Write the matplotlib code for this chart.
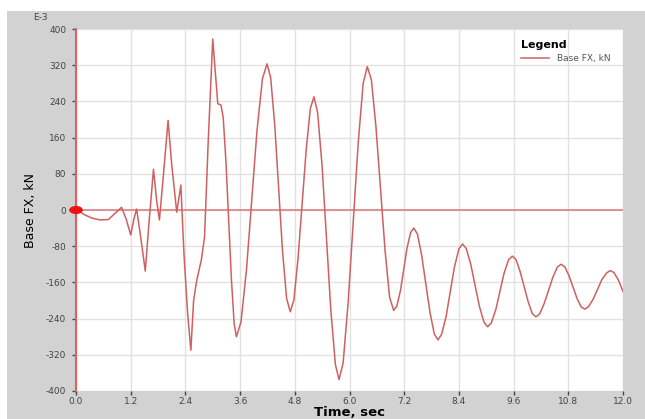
import matplotlib.pyplot as plt
from matplotlib.patches import Rectangle, Ellipse

# Base FX time history (values in E-3 kN)
time_s = [0.00, 0.10, 0.20, 0.35, 0.53, 0.71, 0.85, 1.00, 1.10, 1.20, 1.27, 1.33,
          1.42, 1.52, 1.60, 1.70, 1.77, 1.83, 1.92, 2.02, 2.10, 2.21, 2.30, 2.37,
          2.45, 2.52, 2.58, 2.65, 2.75, 2.82, 2.90, 3.00, 3.06, 3.11, 3.18,
          3.23, 3.29, 3.35, 3.41, 3.47, 3.52,
          3.62, 3.74, 3.855, 3.97, 4.09, 4.19,
          4.27, 4.36, 4.445, 4.53, 4.62, 4.70,
          4.78, 4.87, 4.96, 5.05, 5.14, 5.22,
          5.30, 5.40, 5.495, 5.59, 5.69, 5.77,
          5.86, 5.97, 6.08, 6.19, 6.30, 6.39,
          6.48, 6.58, 6.68, 6.78, 6.88, 6.97,
          7.04, 7.12, 7.19, 7.26, 7.34, 7.41,
          7.49, 7.585, 7.675, 7.765, 7.86, 7.94,
          8.02, 8.12, 8.21, 8.30, 8.40, 8.48,
          8.56, 8.66, 8.755, 8.85, 8.95, 9.03,
          9.11, 9.21, 9.30, 9.39, 9.49, 9.57,
          9.65, 9.74, 9.83, 9.92, 10.01, 10.09,
          10.17, 10.27, 10.365, 10.46, 10.56, 10.64,
          10.72, 10.81, 10.90, 10.99, 11.08, 11.16,
          11.24, 11.34, 11.44, 11.53, 11.64, 11.72,
          11.80, 11.90, 12.00]
base_fx = [0, -5, -11, -18, -22, -21, -8, 6, -20, -55, -20, 2,
           -60, -135, -30, 90, 20, -22, 80, 198, 100, -5, 55, -100,
           -230, -310, -200, -155, -110, -60, 150, 378, 300, 235, 232,
           204, 106, -24, -154, -252, -280,
           -247, -132, 22, 175, 290, 323,
           293, 188, 49, -90, -195, -225,
           -199, -108, 12, 133, 224, 250,
           216, 96, -62, -221, -341, -375,
           -338, -205, -29, 147, 280, 317,
           288, 184, 47, -89, -193, -222,
           -212, -177, -131, -85, -50, -40,
           -53, -101, -163, -226, -274, -287,
           -275, -235, -181, -127, -86, -75,
           -85, -120, -166, -213, -248, -258,
           -250, -220, -180, -140, -110, -102,
           -109, -135, -169, -203, -229, -236,
           -230, -207, -178, -149, -126, -120,
           -125, -144, -169, -195, -214, -219,
           -214, -198, -176, -155, -139, -134,
           -138, -155, -180]

x_ticks = [0.0, 1.2, 2.4, 3.6, 4.8, 6.0, 7.2, 8.4, 9.6, 10.8, 12.0]
y_ticks = [-400, -320, -240, -160, -80, 0, 80, 160, 240, 320, 400]

fig = plt.figure(figsize=(6.45, 4.19), dpi=100)
fig.patch.set_facecolor('white')
fig.patches.append(Rectangle((7 / 645, 0), 1, 1 - 11 / 419, transform=fig.transFigure,
                             facecolor='#d2d2d2', edgecolor='none', zorder=0))

ax = fig.add_axes([76 / 645, 1 - 391 / 419, 547 / 645, 362 / 419])
ax.set_facecolor('white')
ax.set_zorder(1)

ax.grid(True, color='#e2e2e2', linewidth=1)
ax.axhline(0, color='#e08080', linewidth=1.2, zorder=2)
ax.plot(time_s, base_fx, color='#d06060', linewidth=1.1, label='Base FX, kN', zorder=3)

ax.add_patch(Ellipse((0, 0), 0.30, 18, facecolor='#ee1111', edgecolor='none',
                     clip_on=False, zorder=5))

ax.set_xlim(0, 12)
ax.set_ylim(-400, 400)
ax.set_xticks(x_ticks)
ax.set_xticklabels([f'{t:.1f}' for t in x_ticks])
ax.set_yticks(y_ticks)
ax.set_yticklabels([str(v) for v in y_ticks])

for s in ['top', 'right', 'bottom']:
    ax.spines[s].set_visible(False)
ax.spines['left'].set_color('#e06060')
ax.spines['left'].set_linewidth(1.5)

ax.tick_params(axis='both', colors='#444444', labelsize=6.5, length=3, width=1)
ax.tick_params(axis='y', pad=4)
ax.tick_params(axis='x', pad=1.5)

ax.set_xlabel('Time, sec', fontsize=9.5, fontweight='bold', labelpad=0)
ax.set_ylabel('Base FX, kN', fontsize=9, labelpad=6)
fig.text(40 / 645, 1 - 17 / 419, 'E-3', fontsize=6.5, color='#444444', ha='center', va='center')

leg = ax.legend(loc='upper right', bbox_to_anchor=(0.99, 0.99), frameon=False,
                title='Legend', fontsize=6.5, handlelength=3.2, borderpad=0.3,
                labelcolor='#555555')
leg.get_title().set_fontweight('bold')
leg.get_title().set_fontsize(8)
leg._legend_box.align = 'left'

fig.savefig('out.png', dpi=100)
